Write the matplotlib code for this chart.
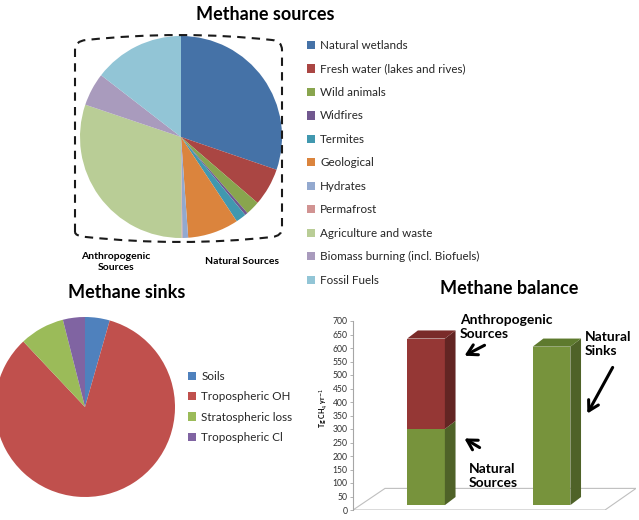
import matplotlib
matplotlib.use('Agg')
import matplotlib.pyplot as plt
from matplotlib.path import Path
from matplotlib.patches import PathPatch, Polygon
import numpy as np

plt.rcParams['font.family'] = ['Lato', 'DejaVu Sans']

# --- data (Tg CH4 / yr) ---
source_labels = ['Natural wetlands', 'Fresh water (lakes and rives)', 'Wild animals',
                 'Widfires', 'Termites', 'Geological', 'Hydrates', 'Permafrost',
                 'Agriculture and waste', 'Biomass burning (incl. Biofuels)', 'Fossil Fuels']
source_values = [200, 40, 15, 3, 11, 54, 6, 1, 200, 35, 96]
source_colors = ['#4572A7', '#AA4643', '#89A54E', '#71588F', '#4198AF', '#DB843D',
                 '#93A9CF', '#D19392', '#B9CD96', '#A99BBD', '#92C5D6']

sink_labels = ['Soils', 'Tropospheric OH', 'Stratospheric loss', 'Tropospheric Cl']
sink_values = [28, 528, 51, 25]
sink_colors = ['#4F81BD', '#C0504D', '#9BBB59', '#8064A2']

balance_x = [1, 2]
natural = [300, 605]          # natural sources / natural sinks
anthropogenic = [335, 0]      # anthropogenic sources on top
yticks = list(range(0, 701, 50))

W, H = 639, 520
fig = plt.figure(figsize=(W / 100, H / 100), dpi=100)
fig.patch.set_facecolor('white')


def px_box(cx, cy, r):
    # axes box (figure fraction) for a circle given in pixel coords
    return [(cx - r) / W, (H - cy - r) / H, 2 * r / W, 2 * r / H]


# --- methane sources pie ---
ax1 = fig.add_axes(px_box(181, 137, 101))
w1, _ = ax1.pie(source_values, colors=source_colors, startangle=90, counterclock=False,
                radius=1, wedgeprops=dict(linewidth=0))
ax1.set_xlim(-1, 1)
ax1.set_ylim(-1, 1)
ax1.set_aspect('equal')
ax1.axis('off')
fig.legend(w1, source_labels, loc='upper left', bbox_to_anchor=(307 / W, 1 - 40 / H),
           frameon=False, fontsize=8.4, handlelength=0.72, handleheight=0.72,
           handletextpad=0.42, labelspacing=1.07, borderpad=0, borderaxespad=0,
           labelcolor='#262626')

# --- methane sinks pie ---
ax2 = fig.add_axes(px_box(85, 407, 90))
w2, _ = ax2.pie(sink_values, colors=sink_colors, startangle=90, counterclock=False,
                radius=1, wedgeprops=dict(linewidth=0))
ax2.set_xlim(-1, 1)
ax2.set_ylim(-1, 1)
ax2.set_aspect('equal')
ax2.axis('off')
fig.legend(w2, sink_labels, loc='upper left', bbox_to_anchor=(188 / W, 1 - 371 / H),
           frameon=False, fontsize=8.4, handlelength=0.72, handleheight=0.72,
           handletextpad=0.42, labelspacing=0.8, borderpad=0, borderaxespad=0,
           labelcolor='#262626')

# --- methane balance (pseudo 3D columns) ---
ax3 = fig.add_axes([353 / W, (H - 510) / H, (636 - 353) / W, (510 - 321) / H])
ax3.set_xlim(0.418, 2.673)
ax3.set_ylim(0, 700)
for s in ['top', 'right', 'bottom']:
    ax3.spines[s].set_visible(False)
ax3.spines['left'].set_color('#A6A6A6')
ax3.spines['left'].set_linewidth(0.8)
ax3.set_xticks([])
ax3.set_yticks(yticks)
ax3.tick_params(axis='y', labelsize=6.2, colors='#A6A6A6', labelcolor='#303030',
                length=2, width=0.6, pad=2)
ax3.patch.set_alpha(0)

floor = Polygon([(0.418, 0), (2.426, 0), (2.673, 80), (0.673, 80)], closed=True,
                facecolor='none', edgecolor='#BFBFBF', lw=0.8, zorder=1)
ax3.add_patch(floor)

bw = 0.30
dx, dy = 0.085, 30
base = 18
green = ('#77933C', '#4F6228', '#5E7A2E')
red = ('#953735', '#632523', '#7A2B29')

for x, nat, ant in zip(balance_x, natural, anthropogenic):
    segs = [(base, nat, green)]
    if ant > 0:
        segs.append((nat, nat + ant, red))
    for y0, y1, (front, side, top) in segs:
        ax3.bar(x, y1 - y0, bottom=y0, width=bw, color=front, linewidth=0, zorder=3)
        ax3.add_patch(Polygon([(x + bw / 2, y0), (x + bw / 2 + dx, y0 + dy),
                               (x + bw / 2 + dx, y1 + dy), (x + bw / 2, y1)],
                              closed=True, facecolor=side, lw=0, zorder=3))
    ytop = segs[-1][1]
    ax3.add_patch(Polygon([(x - bw / 2, ytop), (x - bw / 2 + dx, ytop + dy),
                           (x + bw / 2 + dx, ytop + dy), (x + bw / 2, ytop)],
                          closed=True, facecolor=segs[-1][2][2], lw=0, zorder=3))

# --- overlay in pixel coords for titles, bracket and notes ---
ov = fig.add_axes([0, 0, 1, 1])
ov.set_xlim(0, W)
ov.set_ylim(H, 0)
ov.axis('off')
ov.patch.set_alpha(0)

ov.text(265, 14, 'Methane sources', ha='center', va='center', fontsize=13, fontweight='bold')
ov.text(127, 292, 'Methane sinks', ha='center', va='center', fontsize=13, fontweight='bold')
ov.text(509, 288, 'Methane balance', ha='center', va='center', fontsize=13, fontweight='bold')

verts = [(75, 232), (75, 50), (75, 41), (86, 40), (181, 30), (272, 40),
         (282, 41), (282, 50), (282, 228), (282, 236), (272, 237),
         (181, 247), (86, 237), (75, 236), (75, 232)]
codes = [Path.MOVETO, Path.LINETO, Path.CURVE3, Path.CURVE3, Path.CURVE3, Path.CURVE3,
         Path.CURVE3, Path.CURVE3, Path.LINETO, Path.CURVE3, Path.CURVE3,
         Path.CURVE3, Path.CURVE3, Path.CURVE3, Path.CURVE3]
ov.add_patch(PathPatch(Path(verts, codes), facecolor='none', edgecolor='#1a1a1a',
                       lw=1.5, linestyle=(0, (4, 3))))

ov.text(116, 262, 'Anthropogenic\nSources', ha='center', va='center', fontsize=7.5,
        fontweight='bold', linespacing=1.3)
ov.text(242, 262, 'Natural Sources', ha='center', va='center', fontsize=7.5,
        fontweight='bold')

ov.text(460, 327, 'Anthropogenic\nSources', ha='left', va='center', fontsize=10,
        fontweight='bold', linespacing=1.25)
ov.text(469, 476, 'Natural\nSources', ha='left', va='center', fontsize=10,
        fontweight='bold', linespacing=1.25)
ov.text(585, 344, 'Natural\nSinks', ha='left', va='center', fontsize=10,
        fontweight='bold', linespacing=1.25)

arrow = dict(arrowstyle='->,head_length=0.7,head_width=0.4', lw=2.2, color='black')
ov.annotate('', xy=(462, 357), xytext=(487, 344), arrowprops=arrow)
ov.annotate('', xy=(462, 437), xytext=(482, 449), arrowprops=arrow)
ov.annotate('', xy=(586, 416), xytext=(614, 365), arrowprops=arrow)

ov.text(324, 408, 'Tg CH$_4$ yr$^{-1}$', rotation=90, ha='center', va='center',
        fontsize=5, fontweight='bold')

fig.savefig('out.png', dpi=100)
